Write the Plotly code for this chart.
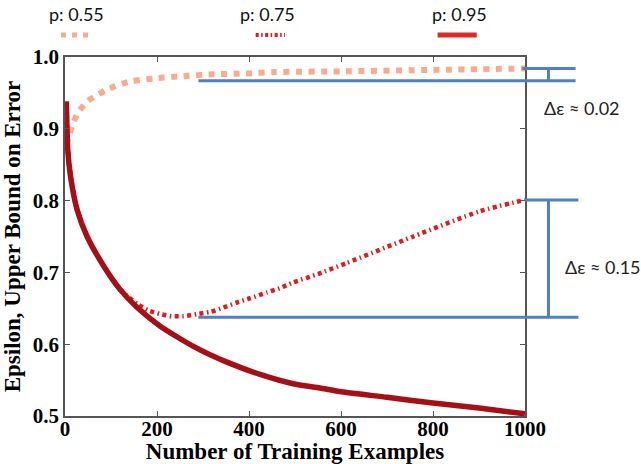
import plotly.graph_objects as go

# ---------------- data ----------------
x_p055 = [3, 8, 19, 30, 48, 70, 92, 142, 193, 250, 323, 395, 453, 600, 800, 1000]
y_p055 = [0.878, 0.889, 0.910, 0.924, 0.938, 0.947, 0.955, 0.966, 0.970, 0.973,
          0.976, 0.977, 0.979, 0.980, 0.982, 0.984]

x_p075 = [3, 6, 12, 26, 48, 84, 120, 157, 182, 207, 232, 258, 287, 316, 344, 373,
          402, 439, 467, 496, 551, 612, 757, 901, 1000]
y_p075 = [0.938, 0.871, 0.834, 0.788, 0.750, 0.709, 0.676, 0.656, 0.647, 0.642,
          0.639, 0.639, 0.642, 0.645, 0.651, 0.658, 0.664, 0.672, 0.678, 0.686,
          0.698, 0.713, 0.750, 0.785, 0.801]

x_p095 = [3, 6, 12, 26, 48, 84, 120, 157, 207, 279, 352, 424, 496, 554, 597, 700,
          800, 900, 1000]
y_p095 = [0.938, 0.871, 0.834, 0.788, 0.750, 0.709, 0.676, 0.651, 0.625, 0.597,
          0.575, 0.558, 0.545, 0.539, 0.534, 0.526, 0.518, 0.511, 0.503]

legend_labels = ["p: 0.55", "p: 0.75", "p: 0.95"]
x_ticks = [0, 200, 400, 600, 800, 1000]
y_ticks = [0.5, 0.6, 0.7, 0.8, 0.9, 1.0]
x_range = [0, 1000]
y_range = [0.5, 1.0]

# bracket annotations (delta epsilon)
bracket_hi = [y_p055[-1], y_p075[-1]]
bracket_lo = [0.967, 0.6375]
bracket_labels = ["Δε ≈ 0.02", "Δε ≈ 0.15"]

# ---------------- styles ----------------
c055 = "#fcaa8d"
c075 = "#e31a1c"
c095 = "#a50f15"
c095_leg = "#dc2a26"
blue = "#4f81bd"
serif = "Liberation Serif"
sans = "Lato"

fig = go.Figure()
fig.add_trace(go.Scatter(x=x_p055, y=y_p055, mode="lines", hoverinfo="skip",
                         line=dict(color=c055, width=6, dash="6px,6.5px",
                                   shape="spline", smoothing=0.6)))
fig.add_trace(go.Scatter(x=x_p075, y=y_p075, mode="lines", hoverinfo="skip",
                         line=dict(color=c075, width=4.5, dash="4px,3.5px,1.5px,3.5px",
                                   shape="spline", smoothing=0.6)))
fig.add_trace(go.Scatter(x=x_p095, y=y_p095, mode="lines", hoverinfo="skip",
                         line=dict(color=c095, width=5.5, shape="spline", smoothing=0.6)))


def px_(x):
    return (x - x_range[0]) / (x_range[1] - x_range[0])


def py_(y):
    return (y - y_range[0]) / (y_range[1] - y_range[0])


shapes = []
annotations = []

# brackets
long_start = 290
stub_starts = [994, 999]
line_ends = [1110, 1116]
stem_x = 1051
for hi, lo, s0, e in zip(bracket_hi, bracket_lo, stub_starts, line_ends):
    shapes.append(dict(type="line", xref="paper", yref="paper",
                       x0=px_(s0), x1=px_(e), y0=py_(hi), y1=py_(hi),
                       line=dict(color=blue, width=3)))
    shapes.append(dict(type="line", xref="paper", yref="paper",
                       x0=px_(long_start), x1=px_(e), y0=py_(lo), y1=py_(lo),
                       line=dict(color=blue, width=3)))
    shapes.append(dict(type="line", xref="paper", yref="paper",
                       x0=px_(stem_x), x1=px_(stem_x), y0=py_(hi), y1=py_(lo),
                       line=dict(color=blue, width=3)))

label_pos = [(1.038, 0.929), (1.0835, 0.707)]
for lab, (lx, ly) in zip(bracket_labels, label_pos):
    annotations.append(dict(text=lab, xref="paper", yref="paper", x=lx, y=py_(ly),
                            xanchor="left", yanchor="middle", showarrow=False,
                            font=dict(family=sans, size=18, color="#222222")))

# legend (drawn manually)
leg_text_x = [0.025, 0.441, 0.857]
leg_sw = [(-0.0087, 0.053), (0.4145, 0.4783), (0.810, 0.895)]
leg_styles = [dict(color=c055, width=5, dash="5px,6px"),
              dict(color=c075, width=4, dash="3px,2.5px,1.5px,2.5px"),
              dict(color=c095_leg, width=5)]
for lab, tx, (s0, s1), st in zip(legend_labels, leg_text_x, leg_sw, leg_styles):
    annotations.append(dict(text=lab, xref="paper", yref="paper", x=tx, y=1.12,
                            xanchor="center", yanchor="middle", showarrow=False,
                            font=dict(family=sans, size=18, color="#111111")))
    shapes.append(dict(type="line", xref="paper", yref="paper", x0=s0, x1=s1,
                       y0=1.061, y1=1.061, line=st))

axis_common = dict(showgrid=False, zeroline=False, showline=True, linecolor="#555555",
                   linewidth=1.5, mirror="ticks", ticks="inside", ticklen=5,
                   tickwidth=1, tickcolor="#555555", automargin=False,
                   tickfont=dict(family=serif, size=21, color="#000000", weight="bold"))

fig.update_layout(
    width=641, height=464,
    margin=dict(l=64.5, r=115.5, t=57, b=48),
    paper_bgcolor="white", plot_bgcolor="white",
    showlegend=False,
    shapes=shapes, annotations=annotations,
    xaxis=dict(range=x_range, tickvals=x_ticks, ticklabelstandoff=-7, **axis_common,
               title=dict(text="Number of Training Examples", standoff=3,
                          font=dict(family=serif, size=23, color="#000000", weight="bold"))),
    yaxis=dict(range=y_range, tickvals=y_ticks, tickformat=".1f", **axis_common,
               title=dict(text="Epsilon, Upper Bound on Error", standoff=6,
                          font=dict(family=serif, size=23, color="#000000", weight="bold"))),
)

fig.write_html("out.html", config={"displayModeBar": False},
               post_script="document.body.style.margin='0px';document.body.style.padding='0px';document.body.style.overflow='hidden';")
